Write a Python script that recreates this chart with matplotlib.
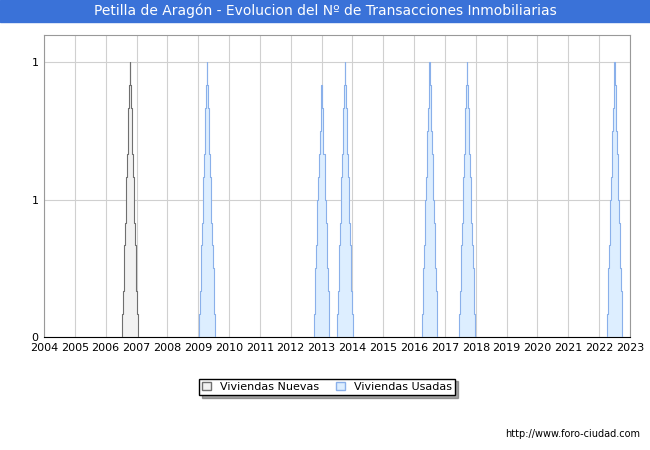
import numpy as np
import matplotlib.pyplot as plt
from matplotlib.patches import Rectangle

nuevas_years = [2006.79]
nuevas_vals = [1]
usadas_years = [2009.29, 2013.0, 2013.76, 2016.5, 2017.72, 2022.5]
usadas_vals = [1, 0.94, 1, 1, 1, 0.97]
half_width = 0.26
xticks = list(range(2004, 2024))

fig = plt.figure(figsize=(6.5, 4.5), dpi=100)
fig.patches.append(Rectangle((0, 1 - 22/450), 1, 22/450, transform=fig.transFigure,
                             color='#3a72d8', zorder=0))
fig.text(0.5, 1 - 11/450, 'Petilla de Aragón - Evolucion del Nº de Transacciones Inmobiliarias',
         ha='center', va='center', color='white', fontsize=10, family='DejaVu Sans')
ax = fig.add_axes([44/650, 1 - 337/450, 586/650, 302/450])

def spike(ax, c, v, edge, face):
    n = 12
    xs = np.linspace(c - half_width, c + half_width, 2 * n + 1)
    ys = v * (1 - np.abs(xs - c) / half_width)
    ys = np.round(ys * n) / n
    ax.fill_between(xs, 0, ys, step='mid', facecolor=face, edgecolor='none', zorder=2)
    ax.step(xs, ys, where='mid', color=edge, lw=0.8, zorder=3)

for c, v in zip(nuevas_years, nuevas_vals):
    spike(ax, c, v, '#707070', '#f2f2f2')
for c, v in zip(usadas_years, usadas_vals):
    spike(ax, c, v, '#8ab0ea', '#ddeeff')

ax.set_xlim(2004, 2023)
ax.set_ylim(0, 1.1)
ax.set_xticks(xticks)
ax.set_xticklabels([str(t) for t in xticks], fontsize=8)
ax.set_yticks([0, 0.5, 1])
ax.set_yticklabels(['0', '1', '1'], fontsize=8)
ax.grid(True, color='#d0d0d0', lw=0.8, zorder=0)
ax.tick_params(length=0, pad=4)
for s in ['top', 'right', 'left']:
    ax.spines[s].set_color('#999999')
    ax.spines[s].set_linewidth(0.8)
ax.spines['bottom'].set_color('black')

from matplotlib.patches import Patch
h = [Patch(facecolor='#f2f2f2', edgecolor='#707070', label='Viviendas Nuevas'),
     Patch(facecolor='#ddeeff', edgecolor='#8ab0ea', label='Viviendas Usadas')]
leg = fig.legend(handles=h, loc='center', bbox_to_anchor=(327/650, 1 - 387/450), ncol=2,
                 fontsize=8, frameon=True, fancybox=False, shadow=True,
                 handlelength=0.8, handleheight=0.8, borderpad=0.3, columnspacing=1.5)
leg.get_frame().set_edgecolor('black')
fig.text(640/650, 1 - 434/450, 'http://www.foro-ciudad.com', ha='right', va='center', fontsize=7)
fig.savefig('out.png', dpi=100)
